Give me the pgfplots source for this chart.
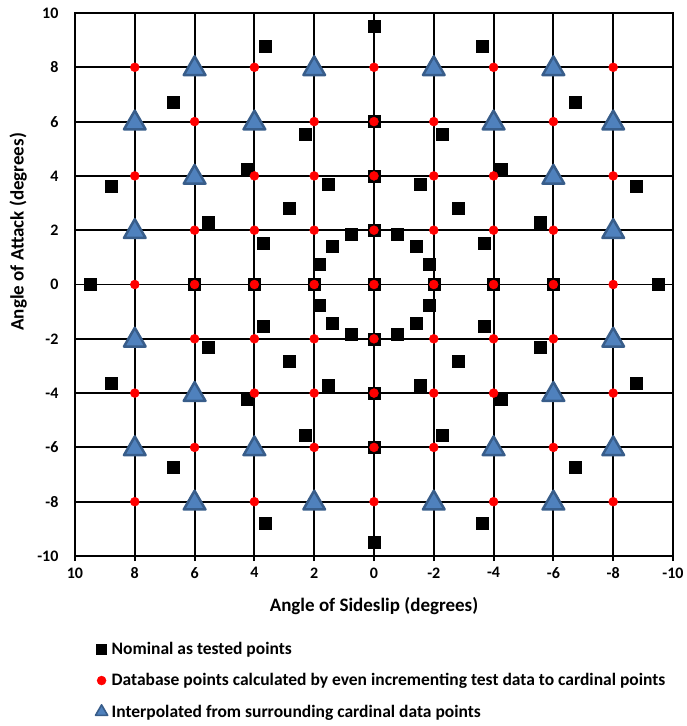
\documentclass[border=0pt]{standalone}
\usepackage{fontspec}
\setmainfont{Carlito}
\usepackage{pgfplots}
\pgfplotsset{compat=1.18}
\definecolor{trifill}{RGB}{79,129,189}
\definecolor{triedge}{RGB}{56,93,138}
\begin{document}
\begin{tikzpicture}
\begin{axis}[
  width=598pt, height=543pt, scale only axis,
  x dir=reverse,
  xmin=-10, xmax=10, ymin=-10, ymax=10,
  xtick={-10,-8,...,10}, ytick={-10,-8,...,10},
  grid=major,
  major grid style={black, line width=1.9pt},
  axis line style={black, line width=1.9pt},
  tick align=outside,
  xtick pos=left, ytick pos=left,
  major tick length=5pt,
  xtick style={black, line width=1.9pt},
  ytick style={draw=none},
  /pgf/number format/assume math mode=true,
  ticklabel style={font=\bfseries\fontsize{16}{16}\selectfont},
  yticklabel style={xshift=-8pt},
  xticklabel style={yshift=-3pt},
  xlabel={Angle of Sideslip (degrees)},
  ylabel={Angle of Attack (degrees)},
  label style={font=\bfseries\fontsize{19}{19}\selectfont},
  xlabel style={at={(axis description cs:0.5,-0.07)}, anchor=north},
  ylabel style={at={(axis description cs:-0.095,0.597)}, anchor=center},
  legend style={draw=none, fill=none, at={(axis description cs:0.034,-0.155)}, anchor=north west,
    font=\bfseries\fontsize{17.5}{17.5}\selectfont, row sep=13.5pt, column sep=2pt, inner sep=0pt},
  legend cell align=left,
]
% Nominal as tested points
\addplot[only marks, mark=square*, mark size=6pt, black,
  legend image code/.code={\draw[mark=square*, mark size=5pt, black] plot coordinates {(0pt,0pt)};}] coordinates {
(0,0)
(0,2) (0.7654,1.8478) (1.4142,1.4142) (1.8478,0.7654) (2,0) (1.8478,-0.7654) (1.4142,-1.4142) (0.7654,-1.8478)
(0,-2) (-0.7654,-1.8478) (-1.4142,-1.4142) (-1.8478,-0.7654) (-2,0) (-1.8478,0.7654) (-1.4142,1.4142) (-0.7654,1.8478)
(0,4) (1.5307,3.6955) (2.8284,2.8284) (3.6955,1.5307) (4,0) (3.6955,-1.5307) (2.8284,-2.8284) (1.5307,-3.6955)
(0,-4) (-1.5307,-3.6955) (-2.8284,-2.8284) (-3.6955,-1.5307) (-4,0) (-3.6955,1.5307) (-2.8284,2.8284) (-1.5307,3.6955)
(0,6) (2.2961,5.5433) (4.2426,4.2426) (5.5433,2.2961) (6,0) (5.5433,-2.2961) (4.2426,-4.2426) (2.2961,-5.5433)
(0,-6) (-2.2961,-5.5433) (-4.2426,-4.2426) (-5.5433,-2.2961) (-6,0) (-5.5433,2.2961) (-4.2426,4.2426) (-2.2961,5.5433)
(0,9.5) (3.6355,8.7769) (6.7175,6.7175) (8.7769,3.6355) (9.5,0) (8.7769,-3.6355) (6.7175,-6.7175) (3.6355,-8.7769)
(0,-9.5) (-3.6355,-8.7769) (-6.7175,-6.7175) (-8.7769,-3.6355) (-9.5,0) (-8.7769,3.6355) (-6.7175,6.7175) (-3.6355,8.7769)
};
\addlegendentry{Nominal as tested points}
% Database points
\addplot[only marks, mark=*, mark size=4.5pt, red, mark options={draw=red, fill=red},
  legend image code/.code={\draw[mark=*, mark size=4.5pt, red, mark options={draw=red, fill=red}] plot coordinates {(0pt,0pt)};}] coordinates {
(-8,8) (-6,8) (-4,8) (-2,8) (0,8) (2,8) (4,8) (6,8) (8,8)
(-8,6) (-6,6) (-4,6) (-2,6) (0,6) (2,6) (4,6) (6,6) (8,6)
(-8,4) (-6,4) (-4,4) (-2,4) (0,4) (2,4) (4,4) (6,4) (8,4)
(-8,2) (-6,2) (-4,2) (-2,2) (0,2) (2,2) (4,2) (6,2) (8,2)
(-8,0) (-6,0) (-4,0) (-2,0) (0,0) (2,0) (4,0) (6,0) (8,0)
(-8,-2) (-6,-2) (-4,-2) (-2,-2) (0,-2) (2,-2) (4,-2) (6,-2) (8,-2)
(-8,-4) (-6,-4) (-4,-4) (-2,-4) (0,-4) (2,-4) (4,-4) (6,-4) (8,-4)
(-8,-6) (-6,-6) (-4,-6) (-2,-6) (0,-6) (2,-6) (4,-6) (6,-6) (8,-6)
(-8,-8) (-6,-8) (-4,-8) (-2,-8) (0,-8) (2,-8) (4,-8) (6,-8) (8,-8)
};
\addlegendentry{Database points calculated by even incrementing test data to cardinal points}
% Interpolated
\addplot[only marks, mark=triangle*, mark size=12.5pt,
  mark options={fill=trifill, draw=triedge, line width=2.5pt, line join=round, yshift=-1.5pt},
  legend image code/.code={\draw[mark=triangle*, mark size=7pt, mark options={fill=trifill, draw=triedge, line width=1.6pt, line join=round}] plot coordinates {(0pt,0pt)};}] coordinates {
(6,8) (2,8) (-2,8) (-6,8)
(8,6) (4,6) (-4,6) (-8,6)
(6,4) (-6,4)
(8,2) (-8,2)
(8,-2) (-8,-2)
(6,-4) (-6,-4)
(8,-6) (4,-6) (-4,-6) (-8,-6)
(6,-8) (2,-8) (-2,-8) (-6,-8)
};
\addlegendentry{Interpolated from surrounding cardinal data points}
\end{axis}
\path (-75pt,-170pt) rectangle (606pt,556pt);
\end{tikzpicture}
\end{document}
